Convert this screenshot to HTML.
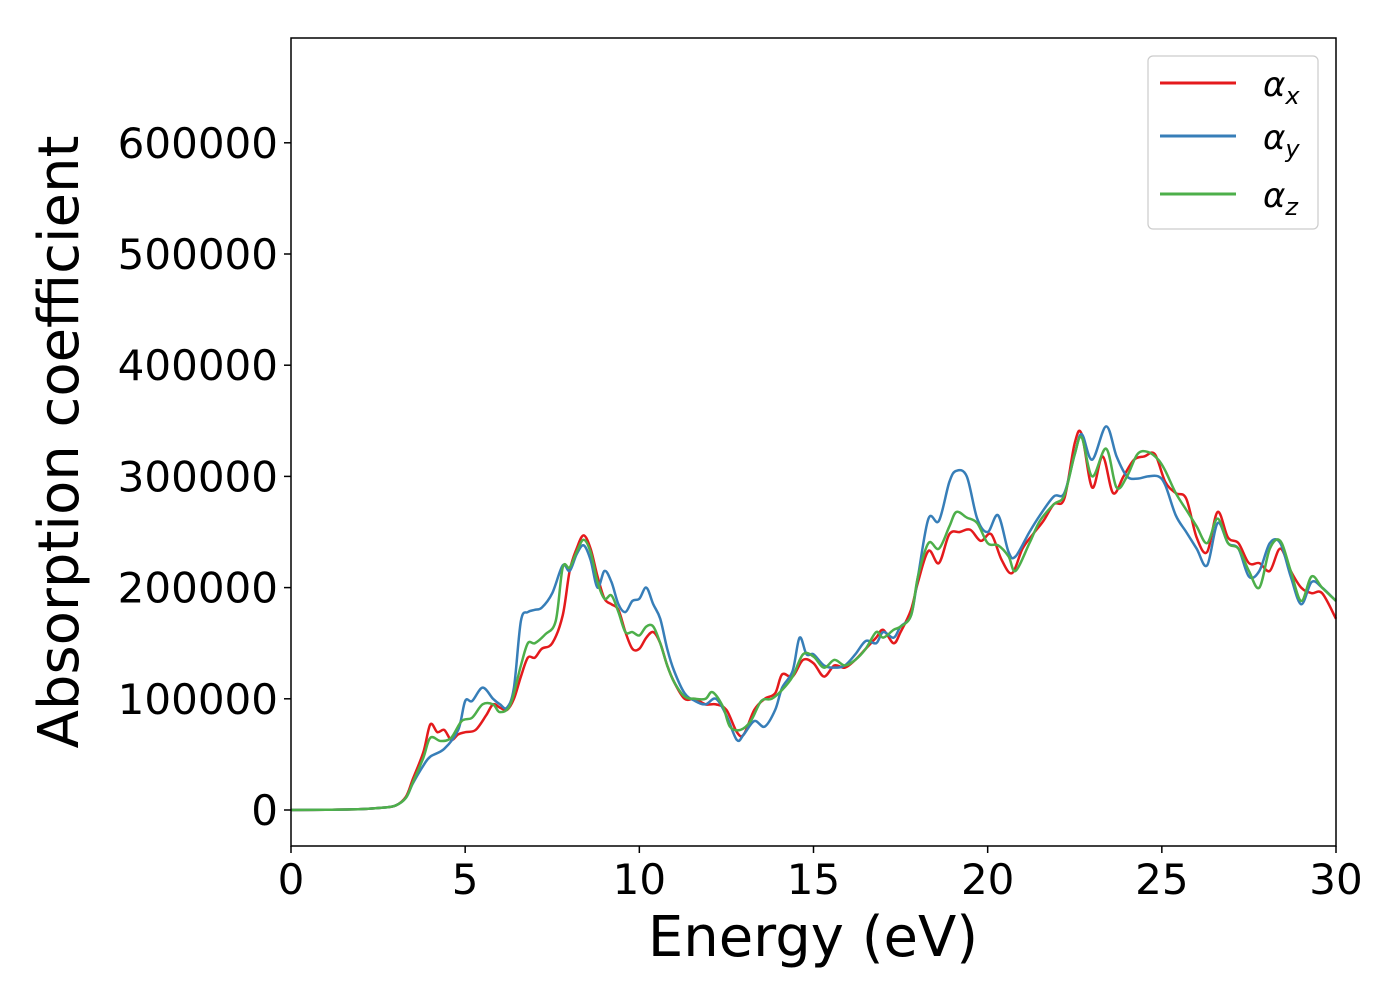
<!DOCTYPE html>
<html><head><meta charset="utf-8"><style>
body{margin:0;background:#fff;}
svg text{font-family:"DejaVu Sans","Liberation Sans",sans-serif;}
</style></head><body>
<svg id="chart" width="1400" height="1000" xmlns="http://www.w3.org/2000/svg">
<rect width="1400" height="1000" fill="#fff"/>
<g id="series"></g>
<g id="axes"></g>
<rect x="291" y="38" width="1045" height="808" fill="none" stroke="#000" stroke-width="1.5"/>
<text x="813" y="956" font-size="56" text-anchor="middle">Energy (eV)</text>
<text transform="translate(78,442) rotate(-90)" font-size="56" text-anchor="middle">Absorption coefficient</text>
<g>
<rect x="1148" y="56" width="170" height="173" rx="5" fill="#fff" fill-opacity="0.8" stroke="#ccc" stroke-width="1.2"/>
<line x1="1160" y1="83" x2="1236" y2="83" stroke="#e41a1c" stroke-width="3"/>
<text x="1263" y="96" font-size="34" font-style="italic">α<tspan font-size="24" dy="8">x</tspan></text>
<line x1="1160" y1="136" x2="1236" y2="136" stroke="#377eb8" stroke-width="3"/>
<text x="1263" y="149" font-size="34" font-style="italic">α<tspan font-size="24" dy="8">y</tspan></text>
<line x1="1160" y1="194" x2="1236" y2="194" stroke="#4daf4a" stroke-width="3"/>
<text x="1263" y="207" font-size="34" font-style="italic">α<tspan font-size="24" dy="8">z</tspan></text>
</g>
</svg>
<script>
const xTicks=[0,5,10,15,20,25,30];
const yTicks=[0,100000,200000,300000,400000,500000,600000];
const eX=[0,1,2,2.6,3,3.3,3.5,3.8,4.0,4.2,4.4,4.6,4.8,5.0,5.3,5.6,5.8,6.0,6.2,6.4,6.6,6.8,7.0,7.2,7.5,7.8,8.0,8.2,8.4,8.6,8.8,9.0,9.2,9.4,9.6,9.8,10.0,10.2,10.4,10.6,10.8,11.0,11.3,11.6,11.9,12.2,12.5,12.8,13.0,13.3,13.6,13.9,14.1,14.4,14.7,15.0,15.3,15.6,15.9,16.2,16.5,16.8,17.0,17.3,17.5,17.8,18.0,18.3,18.6,18.9,19.2,19.5,19.8,20.1,20.4,20.7,21.0,21.3,21.6,21.9,22.2,22.5,22.7,23.0,23.3,23.6,23.9,24.2,24.5,24.8,25.1,25.4,25.7,26.0,26.3,26.6,26.9,27.2,27.5,27.8,28.1,28.4,28.7,29.0,29.3,29.6,30];
const aX=[0,200,800,2000,4000,12000,28000,52000,77000,70000,72000,63000,68000,70000,72000,85000,95000,92000,90000,100000,120000,137000,137000,145000,150000,175000,215000,235000,247000,235000,210000,190000,185000,180000,160000,145000,145000,155000,160000,150000,130000,115000,100000,100000,95000,95000,90000,70000,68000,90000,100000,105000,122000,120000,135000,132000,120000,130000,128000,135000,145000,155000,162000,150000,160000,180000,205000,233000,222000,248000,250000,252000,242000,248000,225000,213000,235000,248000,260000,275000,280000,330000,338000,290000,318000,285000,300000,315000,318000,320000,295000,285000,280000,245000,232000,268000,245000,240000,222000,222000,215000,235000,215000,200000,195000,195000,172000];
const eY=[0,1,2,2.6,3,3.3,3.5,3.8,4.0,4.4,4.8,5.0,5.2,5.5,5.8,6.0,6.2,6.4,6.6,6.8,7.0,7.2,7.5,7.8,8.0,8.2,8.4,8.6,8.8,9.0,9.2,9.4,9.6,9.8,10.0,10.2,10.4,10.6,10.8,11.0,11.3,11.6,11.9,12.2,12.5,12.8,13.0,13.3,13.6,13.9,14.1,14.4,14.6,14.8,15.0,15.3,15.6,15.9,16.2,16.5,16.8,17.0,17.3,17.5,17.8,18.0,18.3,18.6,18.9,19.1,19.4,19.7,20.0,20.3,20.6,20.8,21.2,21.5,21.9,22.2,22.5,22.7,23.0,23.4,23.7,24.0,24.3,24.6,24.9,25.1,25.4,25.7,26.0,26.3,26.6,26.9,27.2,27.5,27.8,28.1,28.4,28.7,29.0,29.3,29.6,30];
const aY=[0,200,800,2000,4000,11000,24000,40000,48000,55000,72000,98000,98000,110000,100000,95000,92000,110000,170000,178000,180000,182000,195000,220000,215000,230000,238000,225000,200000,215000,205000,185000,178000,188000,190000,200000,185000,172000,145000,125000,105000,98000,95000,100000,85000,63000,68000,80000,75000,90000,110000,125000,155000,140000,140000,130000,128000,130000,140000,152000,150000,160000,155000,165000,175000,210000,262000,260000,295000,305000,300000,262000,250000,265000,232000,228000,250000,265000,282000,285000,320000,338000,315000,345000,318000,300000,298000,300000,300000,292000,265000,250000,235000,220000,258000,240000,235000,210000,215000,240000,240000,210000,185000,205000,200000,188000];
const eZ=[0,1,2,2.6,3,3.3,3.5,3.8,4.0,4.3,4.6,4.9,5.2,5.5,5.8,6.0,6.3,6.6,6.8,7.0,7.3,7.6,7.8,8.0,8.2,8.4,8.6,8.8,9.0,9.2,9.4,9.6,9.8,10.0,10.2,10.4,10.6,10.8,11.0,11.3,11.6,11.9,12.1,12.4,12.6,12.9,13.2,13.5,13.8,14.1,14.4,14.7,15.0,15.3,15.6,15.9,16.2,16.5,16.8,17.0,17.3,17.5,17.8,18.0,18.3,18.6,18.9,19.1,19.4,19.7,20.0,20.3,20.6,20.8,21.2,21.5,21.9,22.2,22.5,22.7,23.0,23.4,23.7,24.0,24.3,24.6,24.9,25.1,25.4,25.7,26.0,26.3,26.6,26.9,27.2,27.5,27.8,28.1,28.4,28.7,29.0,29.3,29.6,30];
const aZ=[0,200,800,2000,4000,11000,25000,47000,65000,62000,65000,80000,83000,95000,95000,88000,95000,130000,150000,150000,158000,170000,218000,218000,232000,243000,232000,205000,190000,193000,178000,160000,160000,157000,165000,165000,150000,130000,115000,102000,100000,100000,106000,93000,75000,72000,80000,98000,100000,108000,120000,140000,138000,128000,135000,130000,135000,145000,160000,155000,162000,165000,175000,210000,240000,235000,255000,268000,263000,258000,240000,238000,228000,215000,240000,260000,275000,283000,320000,335000,300000,325000,290000,300000,320000,322000,315000,305000,285000,270000,255000,240000,262000,240000,235000,215000,200000,235000,242000,215000,188000,210000,200000,188000];
const NS="http://www.w3.org/2000/svg";
const X0=291,X1=1336,Y0=810,PX=(X1-X0)/30,PY=111.2/100000;
const sx=v=>X0+v*PX, sy=v=>Y0-v*PY;
const axes=document.getElementById('axes'), ser=document.getElementById('series');
xTicks.forEach(t=>{
 const l=document.createElementNS(NS,'line');
 
 
 l.setAttribute('x1',sx(t));l.setAttribute('x2',sx(t));l.setAttribute('y1',846);l.setAttribute('y2',853);l.setAttribute('stroke','#000');l.setAttribute('stroke-width','1.5');
 axes.appendChild(l);
 const tx=document.createElementNS(NS,'text');
 
 
 tx.setAttribute('x',sx(t));tx.setAttribute('y',894);tx.setAttribute('font-size','42');tx.setAttribute('text-anchor','middle');
 tx.textContent=t;axes.appendChild(tx);
});
yTicks.forEach(t=>{
 const l=document.createElementNS(NS,'line');
 
 
 l.setAttribute('x1',284);l.setAttribute('x2',291);l.setAttribute('y1',sy(t));l.setAttribute('y2',sy(t));l.setAttribute('stroke','#000');l.setAttribute('stroke-width','1.5');
 axes.appendChild(l);
 const tx=document.createElementNS(NS,'text');
 
 
 tx.setAttribute('x',278);tx.setAttribute('y',sy(t)+15);tx.setAttribute('font-size','42');tx.setAttribute('text-anchor','end');
 tx.textContent=t;axes.appendChild(tx);
});
function path(es,vs){
 const p=es.map((e,i)=>[sx(e),sy(vs[i])]);
 let d='M'+p[0][0]+','+p[0][1];
 for(let i=0;i<p.length-1;i++){
  const a=p[i-1]||p[i],b=p[i],c=p[i+1],n=p[i+2]||c;
  d+=' C'+(b[0]+(c[0]-a[0])/6)+','+(b[1]+(c[1]-a[1])/6)+' '+(c[0]-(n[0]-b[0])/6)+','+(c[1]-(n[1]-b[1])/6)+' '+c[0]+','+c[1];
 }
 return d;
}
[[eX,aX,'#e41a1c','series-alpha-x'],[eY,aY,'#377eb8','series-alpha-y'],[eZ,aZ,'#4daf4a','series-alpha-z']].forEach(s=>{
 const el=document.createElementNS(NS,'path');
 
 
 el.setAttribute('d',path(s[0],s[1]));el.setAttribute('fill','none');el.setAttribute('stroke',s[2]);el.setAttribute('stroke-width','2.5');
 ser.appendChild(el);
});
</script>
</body></html>
